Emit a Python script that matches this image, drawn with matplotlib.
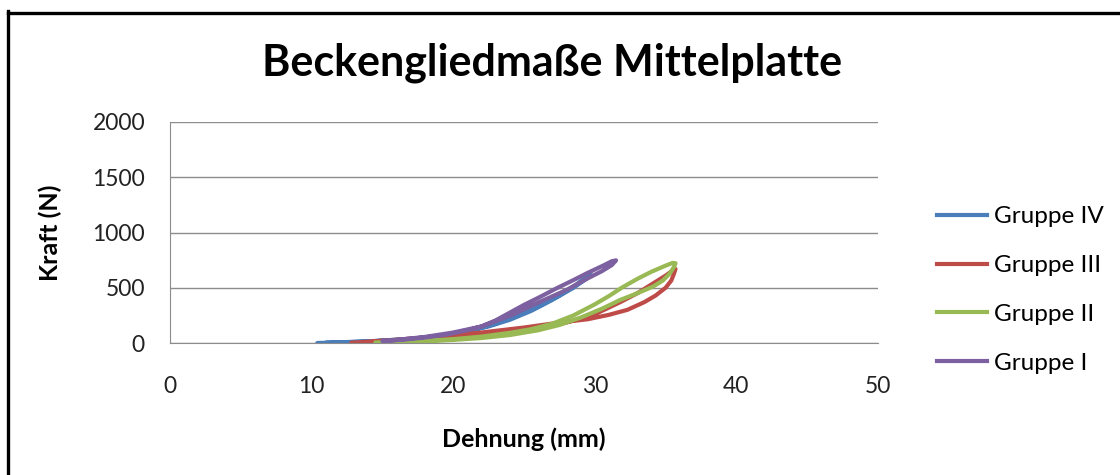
import matplotlib
matplotlib.use("Agg")
import matplotlib.pyplot as plt
from matplotlib.lines import Line2D

# Hysteresis loops (loading branch out, unloading branch back), strain in mm, force in N
gruppe_iv_x = [10.4, 12, 14, 16, 18, 20, 21.5, 23, 24.5, 26, 27.5, 28.7, 29.7,
               29.5, 28.5, 27, 25.5, 24, 22.5, 21, 19, 17, 14, 11]
gruppe_iv_y = [0, 5, 14, 28, 50, 85, 120, 175, 245, 330, 430, 530, 630,
               590, 500, 390, 290, 210, 150, 105, 65, 38, 15, 3]

gruppe_iii_x = [12.8, 15, 17, 20, 22, 24, 26, 28, 30, 31.8, 33, 34, 35, 35.6, 35.7,
                35.6, 35.4, 35, 34.3, 33.5, 32.3, 31, 29.5, 27.5, 25, 22, 19, 16, 13.5]
gruppe_iii_y = [3, 12, 25, 50, 70, 95, 130, 185, 260, 370, 450, 530, 610, 665, 670,
                630, 565, 500, 430, 370, 300, 255, 215, 185, 140, 95, 60, 30, 8]

gruppe_ii_x = [14.5, 16, 18, 20, 22, 24, 25.5, 27, 28.5, 30, 31, 31.9, 33, 34, 35, 35.5, 35.7,
               35.6, 35.3, 34.8, 34.1, 33, 31.8, 30.5, 29, 27.5, 26, 24, 22, 20, 18, 16, 15]
gruppe_ii_y = [5, 10, 20, 35, 58, 92, 125, 175, 250, 350, 425, 500, 580, 645, 700, 725, 722,
               690, 630, 565, 510, 450, 390, 310, 230, 163, 115, 72, 45, 28, 15, 8, 5]

gruppe_i_x = [15, 16.5, 18, 19.5, 21, 22, 23, 24, 25, 26.1, 27.3, 28.5, 29.5, 30.5, 31.2, 31.5,
              31.2, 30.5, 29.5, 28, 26.1, 24, 22, 20, 18, 16, 15.2]
gruppe_i_y = [18, 30, 50, 75, 115, 150, 205, 275, 345, 415, 495, 570, 635, 695, 740, 748,
              705, 650, 585, 480, 371, 245, 150, 95, 55, 28, 18]

series_labels = ["Gruppe IV", "Gruppe III", "Gruppe II", "Gruppe I"]
series_colors = ["#4A7EBB", "#BE4B48", "#98B954", "#7D60A0"]

x_ticks = [0, 10, 20, 30, 40, 50]
y_ticks = [0, 500, 1000, 1500, 2000]

plt.rcParams["font.family"] = ["Lato", "DejaVu Sans"]

fig = plt.figure(figsize=(11.2, 4.75), dpi=100)
ax = fig.add_axes([170 / 1120, 1 - 343 / 475, (878 - 170) / 1120, (343 - 122) / 475])

xs = [gruppe_iv_x, gruppe_iii_x, gruppe_ii_x, gruppe_i_x]
ys = [gruppe_iv_y, gruppe_iii_y, gruppe_ii_y, gruppe_i_y]
for x, y, lab, col in zip(xs, ys, series_labels, series_colors):
    ax.plot(x, y, color=col, lw=3.0, label=lab, solid_capstyle="round",
            solid_joinstyle="round")

ax.set_xlim(0, 50)
ax.set_ylim(0, 2000)
ax.set_xticks(x_ticks)
ax.set_yticks(y_ticks)
ax.tick_params(axis="both", length=0, labelsize=16.5, colors="#222222")
ax.tick_params(axis="x", pad=24)
ax.tick_params(axis="y", pad=18)
ax.yaxis.grid(True, color="#8c8c8c", lw=1)
ax.set_axisbelow(True)
for side in ["top", "right"]:
    ax.spines[side].set_visible(False)
ax.spines["left"].set_color("#8c8c8c")
ax.spines["bottom"].set_color("#8c8c8c")

ax.set_xlabel("Dehnung (mm)", fontsize=18, fontweight="bold", labelpad=22)
ax.set_ylabel("Kraft (N)", fontsize=18, fontweight="bold", labelpad=22)

fig.text(552 / 1120, 1 - 63 / 475, "Beckengliedmaße Mittelplatte", fontsize=31,
         fontweight="bold", ha="center", va="center")

handles = [Line2D([], [], color=c, lw=3.0) for c in series_colors]
fig.legend(handles, series_labels, loc="center left",
           bbox_to_anchor=(915 / 1120, 1 - 290 / 475), frameon=False,
           fontsize=17.5, handlelength=2.05, handletextpad=0.3, labelspacing=1.14)

# chart-area frame
fig.add_artist(Line2D([7.5 / 1120, 7.5 / 1120], [0, 1 - 11 / 475], color="black",
                      lw=2.4, transform=fig.transFigure, solid_capstyle="projecting"))
fig.add_artist(Line2D([7.5 / 1120, 1], [1 - 12.5 / 475, 1 - 12.5 / 475], color="black",
                      lw=2.4, transform=fig.transFigure, solid_capstyle="projecting"))

fig.savefig("out.png", dpi=100, facecolor="white")
